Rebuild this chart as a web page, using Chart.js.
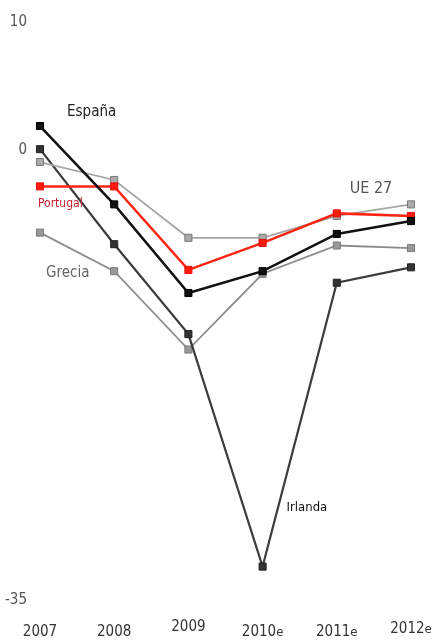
<!DOCTYPE html>
<html>
<head>
<meta charset="utf-8">
<script src="https://cdn.jsdelivr.net/npm/chart.js@4"></script>
<style>
  html, body { margin: 0; padding: 0; background: #fff; }
  #wrap { width: 436px; height: 644px; }
</style>
</head>
<body>
<div id="wrap"><canvas id="deficitChart" width="436" height="644"></canvas></div>
<script>
// saldo público, % del PIB
const years = ['2007', '2008', '2009', '2010e', '2011e', '2012e'];
const espana = [1.9, -4.2, -11.1, -9.4, -6.5, -5.5];
const portugal = [-2.8, -2.8, -9.3, -7.2, -4.9, -5.1];
const ue27 = [-0.9, -2.3, -6.8, -6.8, -5.1, -4.2];
const grecia = [-6.4, -9.4, -15.5, -9.6, -7.4, -7.6];
const irlanda = [0.1, -7.3, -14.3, -32.4, -10.3, -9.1];
const yTicks = [10, 0, -35];

const font = '"Liberation Sans Narrow", "DejaVu Sans Condensed", "Roboto Condensed", sans-serif';

function series(label, data, line, fill, border, width) {
  return {
    label, data,
    borderColor: line, borderWidth: width,
    pointStyle: 'rect', pointRadius: 5, pointBorderWidth: 1,
    pointBackgroundColor: fill, pointBorderColor: border,
    tension: 0
  };
}

// series names next to the lines: [text, dataset, point index, dx, dy, align, size, color]
const seriesLabels = [
  ['España', 0, 0, 27, -14, 'left', 15, '#222'],
  ['Portugal', 1, 0, -2, 17, 'left', 12, '#c8202a'],
  ['Grecia', 4, 0, 6, 40, 'left', 15, '#666'],
  ['UE 27', 2, 5, -40, -16, 'center', 16, '#555'],
  ['Irlanda', 3, 3, 24, -59, 'left', 13, '#111']
];

const labelPlugin = {
  id: 'labels',
  afterDraw(chart) {
    const ctx = chart.ctx;
    ctx.save();
    ctx.textBaseline = 'middle';
    seriesLabels.forEach(([text, ds, idx, dx, dy, align, size, color]) => {
      const pt = chart.getDatasetMeta(ds).data[idx];
      ctx.font = size + 'px ' + font;
      ctx.fillStyle = color;
      ctx.textAlign = align;
      ctx.fillText(text, pt.x + dx, pt.y + dy);
    });
    // year labels, small "e" for estimates
    const x = chart.scales.x;
    const base = chart.chartArea.bottom + 32;
    years.forEach((y, i) => {
      const est = y.endsWith('e');
      const main = est ? y.slice(0, -1) : y;
      const px = x.getPixelForValue(i);
      ctx.font = '15px ' + font;
      const w1 = ctx.measureText(main).width;
      ctx.font = '13px ' + font;
      const w2 = est ? ctx.measureText('e').width : 0;
      const left = px - (w1 + w2) / 2;
      const lift = y === '2009' ? -5 : (y === '2012e' ? -3 : 0);
      ctx.fillStyle = '#333';
      ctx.textAlign = 'left';
      ctx.font = '15px ' + font;
      ctx.fillText(main, left, base + lift);
      if (est) {
        ctx.font = '13px ' + font;
        ctx.fillText('e', left + w1, base + lift + 1);
      }
    });
    ctx.restore();
  }
};

new Chart(document.getElementById('deficitChart'), {
  type: 'line',
  data: {
    labels: years,
    datasets: [
      series('España', espana, '#111', '#111', '#000', 2.5),
      series('Portugal', portugal, '#ff2414', '#ff1a0a', '#e01010', 2.5),
      series('UE 27', ue27, '#a6a6a6', '#aaa', '#777', 1.8),
      series('Irlanda', irlanda, '#3c3c3c', '#333', '#222', 2.2),
      series('Grecia', grecia, '#8c8c8c', '#999', '#7a7a7a', 1.8)
    ]
  },
  options: {
    responsive: false,
    animation: false,
    layout: { padding: { top: 18, right: 25, left: 0, bottom: 0 } },
    plugins: { legend: { display: false }, tooltip: { enabled: false } },
    scales: {
      x: {
        offset: false,
        grid: { display: false },
        border: { display: false },
        ticks: { display: false },
        afterFit(s) { s.height = 44; }
      },
      y: {
        min: -35, max: 10,
        grid: { display: false, drawTicks: false },
        border: { display: false },
        afterBuildTicks(s) { s.ticks = yTicks.map(v => ({ value: v })); },
        afterFit(s) { s.width = 40; },
        ticks: {
          padding: 13,
          color: '#555',
          font: { family: font, size: 15 }
        }
      }
    }
  },
  plugins: [labelPlugin]
});
</script>
</body>
</html>
